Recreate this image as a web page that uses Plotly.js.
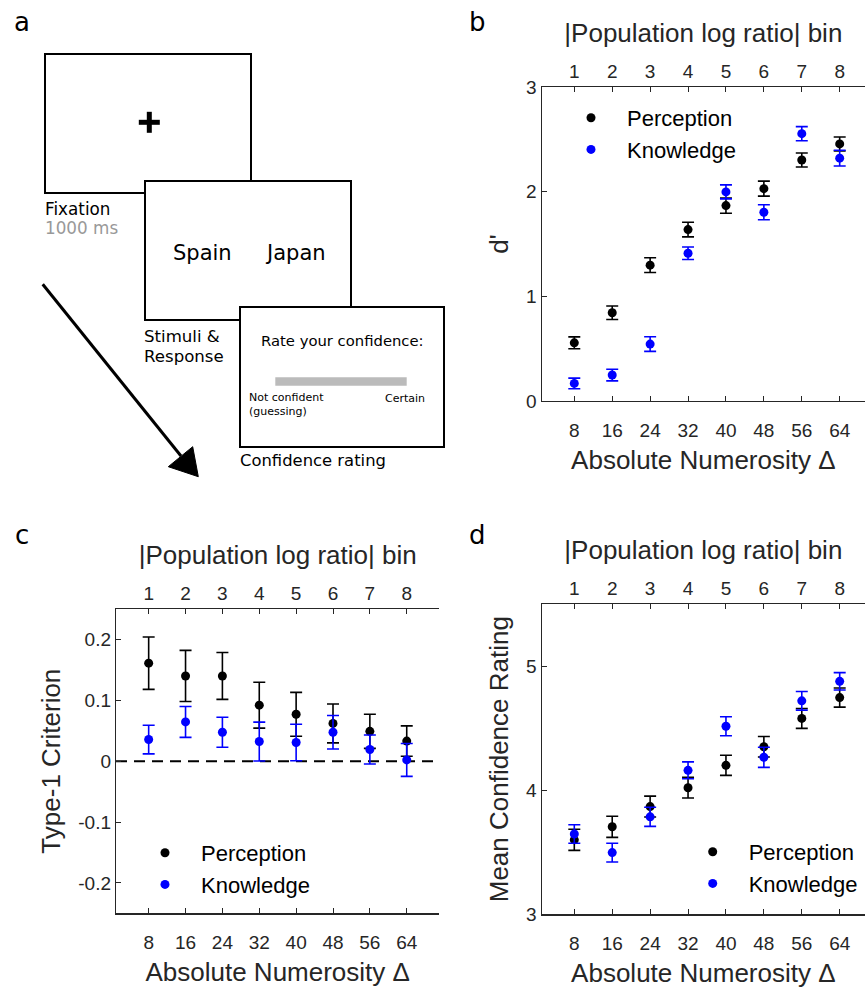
<!DOCTYPE html>
<html>
<head>
<meta charset="utf-8">
<script src="https://cdn.plot.ly/plotly-3.0.1.min.js"></script>
<style>html,body{margin:0;padding:0;background:#fff;overflow:hidden}#chart{width:865px;height:988px}</style>
</head>
<body>
<div id="chart"></div>
<script>
// ---- data ----
const delta = [8, 16, 24, 32, 40, 48, 56, 64];
const bins = ['1', '2', '3', '4', '5', '6', '7', '8'];
const seriesNames = ['Perception', 'Knowledge'];

const dprimePerc = [0.556, 0.843, 1.298, 1.638, 1.867, 2.029, 2.303, 2.456];
const dprimePercErr = [0.057, 0.064, 0.070, 0.070, 0.073, 0.072, 0.067, 0.067];
const dprimeKnow = [0.168, 0.248, 0.544, 1.412, 1.998, 1.803, 2.554, 2.320];
const dprimeKnowErr = [0.051, 0.056, 0.070, 0.060, 0.067, 0.072, 0.067, 0.075];

const critPerc = [0.161, 0.140, 0.140, 0.092, 0.077, 0.062, 0.049, 0.033];
const critPercErr = [0.043, 0.042, 0.0385, 0.0377, 0.036, 0.032, 0.028, 0.025];
const critKnow = [0.0355, 0.0645, 0.0475, 0.0322, 0.0306, 0.0475, 0.0191, 0.002];
const critKnowErr = [0.0235, 0.0254, 0.0246, 0.032, 0.030, 0.0276, 0.0238, 0.027];

const confPerc = [3.600, 3.705, 3.868, 4.020, 4.200, 4.350, 4.578, 4.746];
const confPercErr = [0.085, 0.085, 0.084, 0.083, 0.081, 0.083, 0.080, 0.077];
const confKnow = [3.647, 3.497, 3.785, 4.160, 4.515, 4.265, 4.720, 4.877];
const confKnowErr = [0.075, 0.076, 0.077, 0.068, 0.077, 0.081, 0.075, 0.070];

const critTicks = [-0.2, -0.1, 0, 0.1, 0.2];
const critTickText = ['-0.2', '-0.1', '0', '0.1', '0.2'];

// ---- styling helpers ----
const W = 865, H = 988;
const px = x => x / W;
const py = y => 1 - y / H;
const AX = '#262626';
const BLACK = '#000000', BLUE = '#0000ff';
const tickFont = {family: 'Liberation Sans, Arial, sans-serif', size: 19, color: AX};
const titleFont = {family: 'Liberation Sans, Arial, sans-serif', size: 26, color: AX};
const legFont = {family: 'Liberation Sans, Arial, sans-serif', size: 22, color: '#000'};
const dvFont = (s, c) => ({family: 'DejaVu Sans, Verdana, sans-serif', size: s, color: c || '#000'});

function series(x, y, err, color, name, xa, ya, leg, show) {
  return {
    type: 'scatter', mode: 'markers', x: x, y: y, name: name,
    xaxis: xa, yaxis: ya, legend: leg, showlegend: show,
    marker: {color: color, size: 9},
    error_y: {type: 'data', array: err, visible: true, color: color, thickness: 1.6, width: 6},
    hoverinfo: 'x+y'
  };
}

const traces = [
  series(delta, dprimePerc, dprimePercErr, BLACK, seriesNames[0], 'x', 'y', 'legend', true),
  series(delta, dprimeKnow, dprimeKnowErr, BLUE, seriesNames[1], 'x', 'y', 'legend', true),
  series(delta, critPerc, critPercErr, BLACK, seriesNames[0], 'x2', 'y2', 'legend2', true),
  series(delta, critKnow, critKnowErr, BLUE, seriesNames[1], 'x2', 'y2', 'legend2', true),
  series(delta, confPerc, confPercErr, BLACK, seriesNames[0], 'x3', 'y3', 'legend3', true),
  series(delta, confKnow, confKnowErr, BLUE, seriesNames[1], 'x3', 'y3', 'legend3', true),
  // empty traces so the top (bin) axes are drawn
  {type: 'scatter', x: [], y: [], xaxis: 'x4', yaxis: 'y', showlegend: false},
  {type: 'scatter', x: [], y: [], xaxis: 'x5', yaxis: 'y2', showlegend: false},
  {type: 'scatter', x: [], y: [], xaxis: 'x6', yaxis: 'y3', showlegend: false}
];

const rightX = [1.12, 69.34];
const cX = [0.91, 71.09];

function bottomX(domain, range, anchor) {
  return {
    domain: domain, range: range, anchor: anchor,
    tickvals: delta, ticktext: delta.map(String),
    ticks: 'inside', ticklen: 5, tickwidth: 1, tickcolor: AX,
    showline: true, linecolor: AX, linewidth: 1.2,
    showgrid: false, zeroline: false, tickfont: tickFont,
    ticklabelstandoff: 12,
    title: {text: 'Absolute Numerosity Δ', font: titleFont, standoff: 10},
    fixedrange: true
  };
}
function topX(over, range, anchor) {
  return {
    overlaying: over, side: 'top', range: range, anchor: anchor,
    tickvals: delta, ticktext: bins,
    ticks: 'inside', ticklen: 5, tickwidth: 1, tickcolor: AX,
    showline: true, linecolor: AX, linewidth: 1.2,
    showgrid: false, zeroline: false, tickfont: tickFont,
    title: {text: '|Population log ratio| bin', font: titleFont, standoff: 11},
    fixedrange: true
  };
}
function leftY(domain, range, anchor, title, extra) {
  return Object.assign({
    domain: domain, range: range, anchor: anchor,
    ticks: 'inside', ticklen: 5, tickwidth: 1, tickcolor: AX,
    showline: true, linecolor: AX, linewidth: 1.2,
    showgrid: false, zeroline: false, tickfont: tickFont,
    title: {text: title, font: titleFont, standoff: 10},
    fixedrange: true
  }, extra || {});
}

const bDomX = [px(541.7), 1];
const cDomX = [px(116), px(439.4)];

const legendBase = {
  bgcolor: 'rgba(0,0,0,0)', borderwidth: 0, font: legFont,
  itemwidth: 62, xanchor: 'left', yanchor: 'top', tracegroupgap: 0
};

const shapes = [];
const annotations = [];
function rect(x0, y0, x1, y1, fill) {
  shapes.push({type: 'rect', xref: 'paper', yref: 'paper',
    x0: px(x0), x1: px(x1), y0: py(y0), y1: py(y1),
    line: {color: '#000', width: 2}, fillcolor: fill || 'rgba(0,0,0,0)', layer: 'above'});
}
function bar(x0, y0, x1, y1, color) {
  shapes.push({type: 'rect', xref: 'paper', yref: 'paper',
    x0: px(x0), x1: px(x1), y0: py(y0), y1: py(y1),
    line: {width: 0}, fillcolor: color, layer: 'above'});
}
function txt(x, y, text, font, xanchor) {
  annotations.push({xref: 'paper', yref: 'paper', x: px(x), y: py(y), text: text,
    showarrow: false, font: font, xanchor: xanchor || 'left', yanchor: 'middle'});
}

// panel a illustration
rect(45, 54, 251, 193, '#ffffff');
bar(138.8, 119.8, 159.8, 124.8, '#000');
bar(146.8, 111.8, 151.8, 132.8, '#000');
rect(145, 181, 351, 320, '#ffffff');
rect(240, 307, 444, 447, '#ffffff');
bar(275.3, 377.3, 406.7, 385.7, '#bbbbbb');
// arrow
shapes.push({type: 'line', xref: 'paper', yref: 'paper',
  x0: px(42.7), y0: py(284.3), x1: px(181), y1: py(456), line: {color: '#000', width: 3}, layer: 'above'});
shapes.push({type: 'path', xref: 'paper', yref: 'paper',
  path: 'M ' + px(198.3) + ' ' + py(476.7) + ' L ' + px(168.3) + ' ' + py(466.7) + ' L ' + px(192.7) + ' ' + py(446.7) + ' Z',
  fillcolor: '#000', line: {color: '#000', width: 1}, layer: 'above'});
// dashed zero line in c
shapes.push({type: 'line', xref: 'x2 domain', yref: 'y2', x0: 0, x1: 1, y0: 0, y1: 0,
  line: {color: '#000', width: 2, dash: '11px,7px'}, layer: 'below'});

txt(43, 209, 'Fixation', dvFont(16.8));
txt(43, 227.5, '1000 ms', dvFont(16.8, '#999999'));
txt(202, 253.5, 'Spain', dvFont(21), 'center');
txt(295, 253.5, 'Japan', dvFont(21), 'center');
txt(142, 336, 'Stimuli &amp;', dvFont(16.6));
txt(142, 356.5, 'Response', dvFont(16.6));
txt(342, 340, 'Rate your confidence:', dvFont(14.8), 'center');
txt(247, 397.5, 'Not confident', dvFont(11));
txt(247, 411, '(guessing)', dvFont(11));
txt(427, 398, 'Certain', dvFont(11), 'right');
txt(238, 460, 'Confidence rating', dvFont(16.4));

// panel labels
txt(22, 22, 'a', dvFont(26), 'center');
txt(478, 22, 'b', dvFont(26), 'center');
txt(22, 535, 'c', dvFont(26), 'center');
txt(478, 535, 'd', dvFont(26), 'center');

const layout = {
  width: W, height: H,
  margin: {l: 0, r: 0, t: 0, b: 0, pad: 0},
  paper_bgcolor: '#fff', plot_bgcolor: 'rgba(0,0,0,0)',
  showlegend: true,
  xaxis: bottomX(bDomX, rightX, 'y'),
  yaxis: leftY([py(401), py(87)], [0, 3], 'x', "d'", {tickvals: [0, 1, 2, 3]}),
  xaxis4: topX('x', rightX, 'y'),
  xaxis2: bottomX(cDomX, cX, 'y2'),
  yaxis2: leftY([py(913.3), py(609)], [-0.25, 0.25], 'x2', 'Type-1 Criterion', {tickvals: critTicks, ticktext: critTickText}),
  xaxis5: topX('x2', cX, 'y2'),
  xaxis3: bottomX(bDomX, rightX, 'y3'),
  yaxis3: leftY([py(914.3), py(604)], [3, 5.5], 'x3', 'Mean Confidence Rating', {tickvals: [3, 4, 5]}),
  xaxis6: topX('x3', rightX, 'y3'),
  legend: Object.assign({}, legendBase, {x: px(591 - 36), y: py(97)}),
  legend2: Object.assign({}, legendBase, {x: px(165 - 36), y: py(832)}),
  legend3: Object.assign({}, legendBase, {x: px(712.7 - 36), y: py(831)}),
  shapes: shapes,
  annotations: annotations
};

Plotly.newPlot('chart', traces, layout, {displayModeBar: false, staticPlot: true});
</script>
</body>
</html>
